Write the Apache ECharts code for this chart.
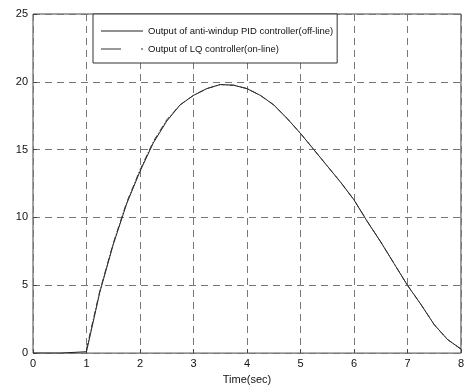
<!DOCTYPE html>
<html>
<head>
<meta charset="utf-8">
<script src="https://cdn.jsdelivr.net/npm/echarts@6/dist/echarts.min.js"></script>
<style>
  html, body { margin: 0; padding: 0; background: #fff; }
  #chart { width: 467px; height: 390px; }
</style>
</head>
<body>
<div id="chart"></div>
<script>
// time axis (sec) and controller outputs
const timeSec = [0, 0.5, 1, 1.25, 1.5, 1.75, 2, 2.25, 2.5, 2.75, 3, 3.25, 3.5, 3.75, 4, 4.25, 4.5, 4.75, 5, 5.25, 5.5, 5.75, 6, 6.25, 6.5, 6.75, 7, 7.25, 7.5, 7.75, 8]
const pidOutput = [0, 0, 0.1, 4.5, 8.0, 11.0, 13.4, 15.5, 17.1, 18.3, 19.0, 19.5, 19.8, 19.75, 19.5, 19.0, 18.3, 17.3, 16.2, 15.0, 13.8, 12.6, 11.3, 9.7, 8.2, 6.6, 5.0, 3.6, 2.1, 1.0, 0.3]
const lqOutput = [null, null, 0.3, 4.6, 8.1, 11.1, 13.5, 15.6, 17.2, 18.3, 19.0, 19.5, 19.8, 19.75, 19.5, 19.0, 18.3, 17.3, 16.2, 15.0, 13.8, 12.6, 11.3, 9.7, 8.2, 6.6, 5.0, 3.6, 2.1, 1.0, 0.3]
const seriesNames = ['Output of anti-windup PID controller(off-line)', 'Output of LQ controller(on-line)']

const chart = echarts.init(document.getElementById('chart'), null, { renderer: 'canvas' })

const font = 'Liberation Sans, Arial, sans-serif'
const gridLine = { show: true, lineStyle: { color: '#777', type: [7, 5], width: 1 } }

chart.setOption({
  animation: false,
  backgroundColor: '#fff',
  grid: { left: 33, right: 3, top: 14, bottom: 35, show: true, borderColor: '#444', borderWidth: 1 },
  legend: {
    orient: 'vertical',
    left: 93,
    top: 14,
    itemWidth: 42,
    itemHeight: 1,
    itemGap: 8,
    padding: [12, 4, 9, 8],
    borderColor: '#333',
    borderWidth: 1,
    backgroundColor: '#fff',
    textStyle: { fontFamily: font, fontSize: 9.5, color: '#111' },
    data: [
      { name: seriesNames[0], icon: 'rect' },
      { name: seriesNames[1], icon: 'path://M0,0h20v1h-20zM40,0h2v1h-2z' }
    ]
  },
  xAxis: {
    type: 'value',
    min: 0, max: 8, interval: 1,
    name: 'Time(sec)',
    nameLocation: 'middle',
    nameGap: 20,
    nameTextStyle: { fontFamily: font, fontSize: 11, color: '#111' },
    axisLine: { show: false },
    axisTick: { show: true, inside: true, length: 4, lineStyle: { color: '#444' } },
    axisLabel: { fontFamily: font, fontSize: 11, color: '#111', margin: 5 },
    splitLine: gridLine
  },
  yAxis: {
    type: 'value',
    min: 0, max: 25, interval: 5,
    axisLine: { show: false },
    axisTick: { show: true, inside: true, length: 4, lineStyle: { color: '#444' } },
    axisLabel: { fontFamily: font, fontSize: 11, color: '#111', margin: 5 },
    splitLine: gridLine
  },
  series: [
    {
      name: seriesNames[0],
      type: 'line',
      data: timeSec.map((t, i) => [t, pidOutput[i]]),
      symbol: 'none',
      lineStyle: { color: '#222', width: 1 },
      itemStyle: { color: '#222' }
    },
    {
      name: seriesNames[1],
      type: 'line',
      data: timeSec.map((t, i) => [t, lqOutput[i]]),
      symbol: 'none',
      lineStyle: { color: '#333', width: 1, type: [6, 2, 1, 2] },
      itemStyle: { color: '#333' }
    }
  ]
})
</script>
</body>
</html>
